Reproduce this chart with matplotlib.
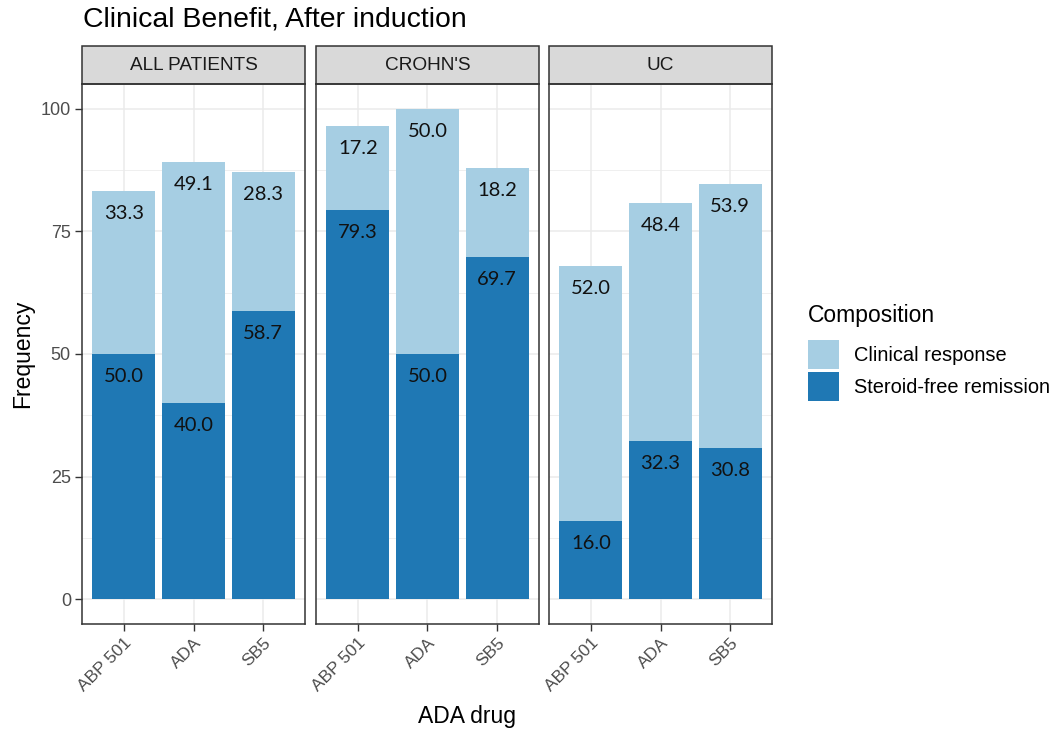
import numpy as np
import matplotlib.pyplot as plt
from matplotlib.patches import Rectangle, Patch

# stacked composition per subgroup (percent)
groups = ["ALL PATIENTS", "CROHN'S", "UC"]
drugs = ["ABP 501", "ADA", "SB5"]

remission_all = [50.0, 40.0, 58.7]
response_all = [33.3, 49.1, 28.3]
remission_crohn = [79.3, 50.0, 69.7]
response_crohn = [17.2, 50.0, 18.2]
remission_uc = [16.0, 32.3, 30.8]
response_uc = [52.0, 48.4, 53.9]

remission = [remission_all, remission_crohn, remission_uc]
response = [response_all, response_crohn, response_uc]

c_light = "#A6CEE3"
c_dark = "#1F78B4"
grid_c = "#EBEBEB"
frame_c = "#333333"
tick_c = "#4D4D4D"

W, H = 1057, 735
fig = plt.figure(figsize=(W / 100, H / 100), dpi=100)
plt.rcParams["font.family"] = ["Liberation Sans", "DejaVu Sans"]

panel_left = [82, 316, 549]
panel_w = 223
top_px, bot_px = 84, 624
strip_h = 38

x = np.arange(1, len(drugs) + 1)
axes = []
for i, g in enumerate(groups):
    ax = fig.add_axes([panel_left[i] / W, 1 - bot_px / H, panel_w / W, (bot_px - top_px) / H])
    axes.append(ax)
    ax.set_axisbelow(True)

    ax.bar(x, remission[i], width=0.9, color=c_dark, zorder=2)
    ax.bar(x, response[i], width=0.9, bottom=remission[i], color=c_light, zorder=2)

    # value labels just under the top of each segment
    for xi, r, c in zip(x, remission[i], response[i]):
        ax.text(xi, r - 4.6, f"{r:.1f}", ha="center", va="center",
                fontsize=14.5, family="Lato", color="#111111", zorder=3)
        ax.text(xi, r + c - 4.6, f"{c:.1f}", ha="center", va="center",
                fontsize=14.5, family="Lato", color="#111111", zorder=3)

    ax.set_xlim(0.4, 3.6)
    ax.set_ylim(-5, 105)
    ax.set_yticks([0, 25, 50, 75, 100])
    ax.set_yticks([12.5, 37.5, 62.5, 87.5], minor=True)
    ax.set_xticks(x)
    ax.set_xticklabels(drugs, rotation=45, ha="right", rotation_mode="anchor",
                       fontsize=12.5, color=tick_c)
    ax.grid(which="major", color=grid_c, linewidth=1.1, zorder=0)
    ax.grid(which="minor", axis="y", color=grid_c, linewidth=0.55, zorder=0)
    ax.tick_params(which="major", length=5, width=1.0, color=frame_c, pad=3)
    ax.tick_params(which="minor", length=0)
    ax.tick_params(axis="y", labelsize=13, labelcolor=tick_c)
    if i > 0:
        ax.tick_params(axis="y", length=0, labelleft=False)
    for s in ax.spines.values():
        s.set_color(frame_c)
        s.set_linewidth(1.1)

    # facet strip
    sh = strip_h / (bot_px - top_px)
    ax.add_patch(Rectangle((0, 1), 1, sh, transform=ax.transAxes, clip_on=False,
                           facecolor="#D9D9D9", edgecolor=frame_c, linewidth=1.1))
    ax.text(0.5, 1 + sh / 2, g, transform=ax.transAxes, ha="center", va="center",
            fontsize=13.7, color="#1A1A1A")

fig.text(83 / W, 1 - 19 / H, "Clinical Benefit, After induction", fontsize=20.4,
         ha="left", va="center", color="black")
fig.text(23 / W, 1 - 354 / H, "Frequency", rotation=90, fontsize=16.5,
         ha="center", va="center")
fig.text(467 / W, 1 - 717 / H, "ADA drug", fontsize=16.5, ha="center", va="center")

handles = [Patch(facecolor=c_light, edgecolor="none"),
           Patch(facecolor=c_dark, edgecolor="none")]
leg = fig.legend(handles, ["Clinical response", "Steroid-free remission"],
                 title="Composition", loc="upper left",
                 bbox_to_anchor=(800 / W, 1 - 296 / H), frameon=False,
                 fontsize=14.4, title_fontsize=16.5, handlelength=1.55,
                 handleheight=1.9, labelspacing=0.12, handletextpad=0.75,
                 borderaxespad=0)
leg._legend_box.align = "left"
leg._legend_box.sep = 9

fig.savefig("out.png", dpi=100)
